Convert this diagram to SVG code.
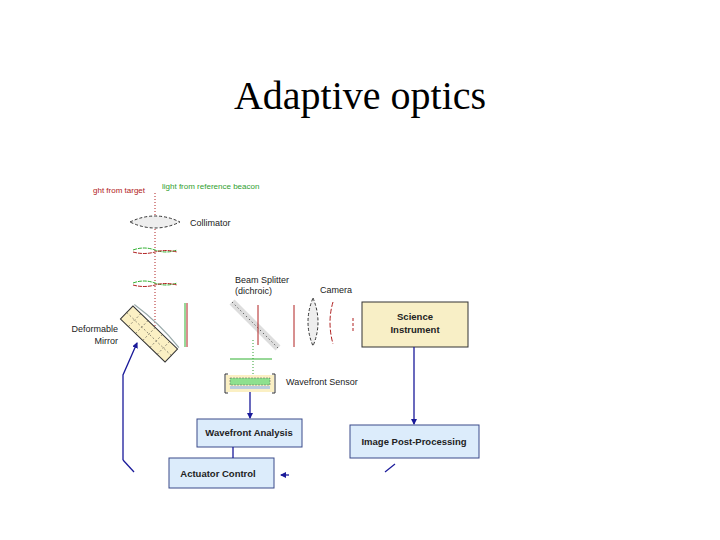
<svg xmlns="http://www.w3.org/2000/svg" width="720" height="540" viewBox="0 0 720 540">
<style>
text{font-family:"Liberation Sans",Arial,sans-serif;font-size:9px;fill:#222}
.box{fill:#dcecfb;stroke:#3a4a8a;stroke-width:1}
.bt{font-weight:bold;font-size:9.5px;text-anchor:middle}
.blue{stroke:#1a1a9a;stroke-width:1.3;fill:none}
.red{stroke:#b02020;stroke-width:1;fill:none}
.grn{stroke:#30b030;stroke-width:1;fill:none}
</style>
<defs>
<marker id="ah" markerWidth="6" markerHeight="6" refX="5" refY="3" orient="auto" markerUnits="userSpaceOnUse"><path d="M0,0L6,3L0,6z" fill="#1a1a9a"/></marker>
</defs>
<rect width="720" height="540" fill="#fff"/>
<text x="360" y="109" style="font-family:'Liberation Serif',serif;font-size:40px;text-anchor:middle;fill:#000">Adaptive optics</text>

<g id="optics">
<text x="93" y="193" style="fill:#b02020;font-size:8px">ght from target</text>
<text x="162" y="189" style="fill:#30a030;font-size:8px">light from reference beacon</text>
<line x1="155" y1="193" x2="155" y2="330" stroke="#b02020" stroke-dasharray="1,2"/>
<path d="M130,222 Q155,210 180,222 Q155,234 130,222z" fill="#eee" stroke="#333" stroke-dasharray="3,2"/>
<text x="190" y="226">Collimator</text>
<path d="M133,250 q11,-4 22,0 t22,0" class="grn" stroke-dasharray="4,1"/>
<path d="M133,252 q11,3 22,0 t22,0" class="red" stroke-dasharray="4,1"/>
<path d="M133,283 q11,-4 22,0 t22,0" class="grn" stroke-dasharray="4,1"/>
<path d="M133,285 q11,3 22,0 t22,0" class="red" stroke-dasharray="4,1"/>
<line x1="185" y1="303" x2="185" y2="347" class="grn"/>
<line x1="187" y1="303" x2="187" y2="347" class="red"/>
<text x="235" y="283">Beam Splitter</text>
<text x="235" y="294">(dichroic)</text>
<text x="320" y="293">Camera</text>
<line x1="232" y1="302" x2="278" y2="348" stroke="#ddd" stroke-width="7"/>
<line x1="232" y1="302" x2="278" y2="348" stroke="#333" stroke-dasharray="1,3"/>
<line x1="258" y1="305" x2="258" y2="345" class="red"/>
<line x1="253" y1="340" x2="253" y2="378" stroke="#30a030" stroke-dasharray="1,2"/>
<line x1="230" y1="359" x2="272" y2="359" class="grn"/>
<line x1="294" y1="305" x2="294" y2="347" class="red"/>
<path d="M313,298 Q323,322 313,346 Q303,322 313,298z" fill="#eee" stroke="#333" stroke-dasharray="3,2"/>
<path d="M333,302 q-6,20 0,42" class="red" stroke-dasharray="5,2"/>
<line x1="353" y1="318" x2="353" y2="332" class="red" stroke-dasharray="3,2"/>
<text x="364" y="326" style="fill:#b02020;font-size:5px">••</text>
</g>

<g id="mirror">
<g transform="translate(149,334) rotate(44)">
<rect x="-31" y="-9" width="62" height="18" fill="#fbf0c4" stroke="#333"/>
<path d="M-20,-9v18M-10,-9v18M0,-9v18M10,-9v18M20,-9v18M-31,0h62" stroke="#333" stroke-width="0.5" stroke-dasharray="2,2"/>
<path d="M-31,-11 q31,-4 62,0" stroke="#9aa" fill="none" stroke-width="1.2"/>
</g>
<text x="118" y="332" text-anchor="end">Deformable</text>
<text x="118" y="344" text-anchor="end">Mirror</text>
</g>

<g id="science">
<rect x="362" y="302" width="106" height="45" fill="#f8efc6" stroke="#333"/>
<text x="415" y="320" class="bt">Science</text>
<text x="415" y="333" class="bt">Instrument</text>
</g>

<g id="wfs">
<rect x="226" y="375" width="48" height="17" fill="#fbf0c4"/>
<rect x="230" y="378" width="40" height="7" fill="#8ee08e" stroke="#555" stroke-width="0.5" stroke-dasharray="2,1"/>
<rect x="230" y="386" width="40" height="3" fill="#bcd"/>
<path d="M228,374h-3v19h3M272,374h3v19h-3" stroke="#333" fill="none"/>
<text x="286" y="385">Wavefront Sensor</text>
</g>

<g id="wfa"><rect class="box" x="197" y="419" width="105" height="28"/><text x="249" y="436" class="bt">Wavefront Analysis</text></g>
<g id="act"><rect class="box" x="169" y="458" width="105" height="30"/><text x="218" y="477" class="bt">Actuator Control</text></g>
<g id="ipp"><rect class="box" x="350" y="425" width="129" height="33"/><text x="414" y="445" class="bt">Image Post-Processing</text></g>

<g id="connectors">
<line x1="250" y1="392" x2="250" y2="418" class="blue" marker-end="url(#ah)"/>
<line x1="233" y1="447" x2="233" y2="458" class="blue"/>
<line x1="414" y1="347" x2="414" y2="424" class="blue" marker-end="url(#ah)"/>
<polyline points="123,460 123,375 137,343" class="blue" marker-end="url(#ah)"/>
<line x1="123" y1="460" x2="134" y2="472" class="blue" stroke-width="1"/>
<line x1="289" y1="475" x2="281" y2="475" class="blue" marker-end="url(#ah)"/>
<line x1="385" y1="472" x2="395" y2="464" class="blue" stroke-width="1"/>
</g>
</svg>
